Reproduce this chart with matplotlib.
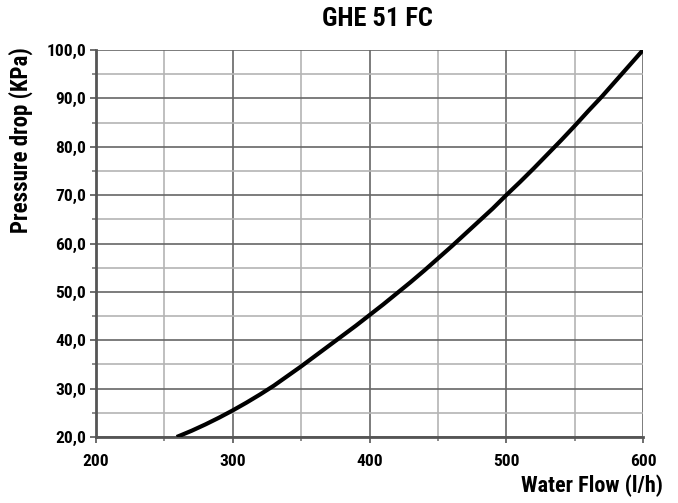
import matplotlib
matplotlib.use('Agg')
import matplotlib.pyplot as plt
from matplotlib.ticker import MultipleLocator, FuncFormatter

plt.rcParams['font.family'] = ['Roboto Condensed', 'PT Sans Narrow', 'DejaVu Sans']

# values
flow = [259, 270, 280, 290, 300, 310, 320, 330, 340, 350, 360, 370, 380, 390, 400, 410, 420,
        430, 440, 450, 460, 470, 480, 490, 500, 510, 520, 530, 540, 550, 560, 570, 580, 590, 600]
dp = [20.0, 21.3, 22.6, 24.0, 25.5, 27.1, 28.8, 30.6, 32.6, 34.6, 36.7, 38.8, 40.9, 43.0, 45.2, 47.4, 49.7,
      52.0, 54.4, 56.9, 59.4, 62.0, 64.6, 67.2, 70.0, 72.7, 75.5, 78.4, 81.3, 84.3, 87.4, 90.4, 93.6, 96.8, 100.0]

fig = plt.figure(figsize=(6.78, 5.03), dpi=100)
ax = fig.add_axes([0.1416, 0.1312, 0.8068, 0.7694])

ax.plot(flow, dp, color='black', lw=3, solid_capstyle='butt', solid_joinstyle='round', zorder=5)

ax.set_xlim(200, 600)
ax.set_ylim(20, 100)
ax.xaxis.set_major_locator(MultipleLocator(100))
ax.xaxis.set_minor_locator(MultipleLocator(50))
ax.yaxis.set_major_locator(MultipleLocator(10))
ax.yaxis.set_minor_locator(MultipleLocator(5))
ax.yaxis.set_major_formatter(FuncFormatter(lambda v, p: ('%.1f' % v).replace('.', ',')))

ax.grid(which='major', color='#666666', lw=1.2)
ax.grid(which='minor', color='#b4b4b4', lw=1.2)
ax.set_axisbelow(True)

for s in ['top', 'right']:
    ax.spines[s].set_visible(False)
for s in ['left', 'bottom']:
    ax.spines[s].set_color('#555555')
    ax.spines[s].set_linewidth(2)

ax.tick_params(which='major', length=4, width=1.2, color='#555555', labelsize=12.5, pad=3)
ax.tick_params(which='minor', length=3, width=1.2, color='#777777')
ax.tick_params(axis='x', which='major', pad=8)
for lab in ax.get_xticklabels() + ax.get_yticklabels():
    lab.set_fontweight('bold')

fig.text(0.556, 0.962, 'GHE 51 FC', ha='center', va='center', fontsize=19, fontweight='bold')
fig.text(0.978, 0.034, 'Water Flow (l/h)', ha='right', va='center', fontsize=16, fontweight='bold')
fig.text(0.03, 0.722, 'Pressure drop (KPa)', ha='center', va='center', rotation=90, fontsize=16.5, fontweight='bold')

fig.savefig('out.png', dpi=100)
